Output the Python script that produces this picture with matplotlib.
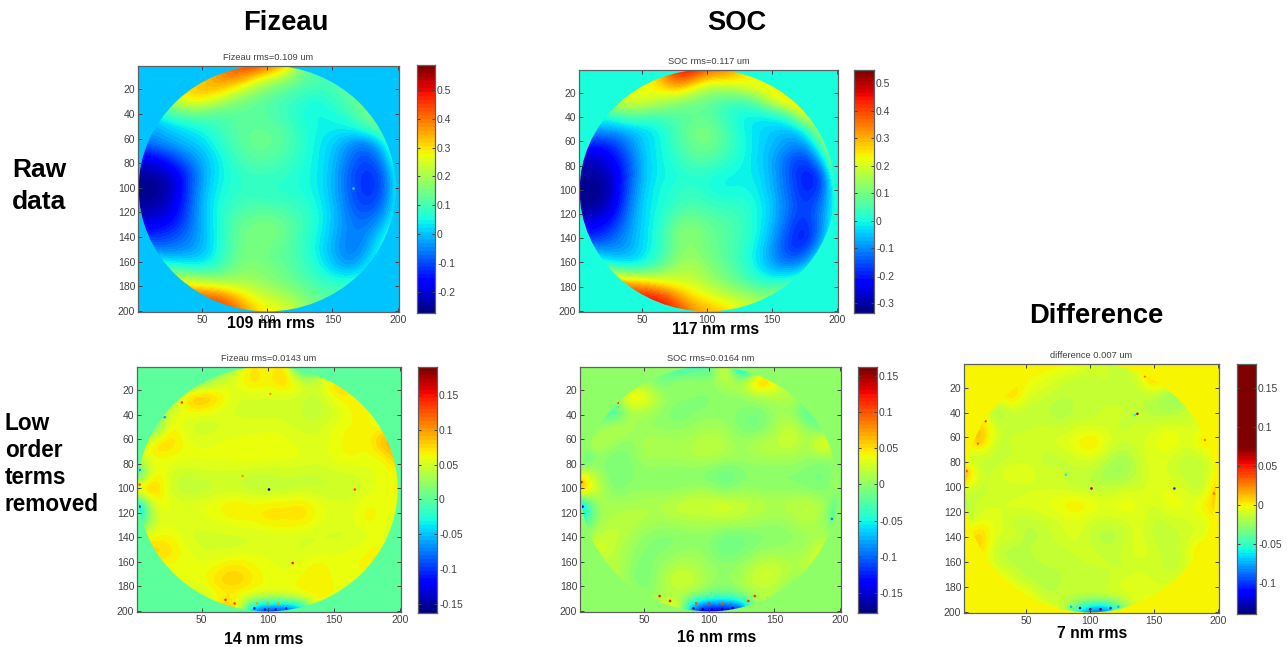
import numpy as np
import matplotlib
matplotlib.use("Agg")
import matplotlib.pyplot as plt
from matplotlib.colors import Normalize
from matplotlib.patches import Ellipse

plt.rcParams['font.family'] = ['Liberation Sans', 'DejaVu Sans']

# surface maps, in nm, rows and columns at 1, 13.5, 26 ... 201
fizeau_raw = [
    [300,300,300,300,300,380,450,470,420,340,150,100,100,100,100,100,100],
    [300,300,300,300,330,380,360,270,200,160,130,110,110,110,100,100,100],
    [200,200,250,320,330,270,190,150,120,100,80,60,90,130,170,170,170],
    [50,50,110,150,140,110,120,120,110,90,60,40,60,90,150,170,170],
    [-20,-20,10,30,60,90,120,130,130,110,70,50,40,50,100,160,180],
    [-60,-50,-20,0,20,70,110,140,140,120,80,40,10,-40,-70,20,170],
    [-200,-170,-120,-60,-10,40,90,120,120,100,70,40,0,-70,-110,-50,130],
    [-250,-240,-210,-130,-20,40,70,90,90,80,60,40,-10,-90,-130,-100,80],
    [-260,-265,-230,-120,-10,50,70,80,70,70,60,40,-10,-90,-130,-110,80],
    [-250,-240,-210,-110,0,60,90,100,100,90,80,50,0,-80,-115,-80,70],
    [-210,-200,-170,-100,0,60,120,140,150,130,100,60,0,-60,-80,-30,90],
    [-130,-130,-110,-70,-10,60,130,160,160,140,90,50,-10,-60,-50,30,120],
    [0,-50,-50,-40,-10,60,130,150,140,120,90,40,-20,-70,-30,70,130],
    [150,100,60,50,40,80,150,170,150,130,100,60,0,-40,20,100,130],
    [300,300,280,240,220,190,190,190,170,150,120,90,70,70,90,120,130],
    [450,450,450,450,430,420,340,270,230,200,170,130,120,120,130,130,130],
    [450,450,450,450,450,470,430,330,290,280,200,150,150,150,150,150,150],
]
soc_raw = [
    [200,200,200,200,200,300,450,470,380,370,280,200,150,100,100,100,100],
    [200,200,200,200,230,260,350,260,180,190,220,260,260,200,200,200,200],
    [170,170,200,220,220,180,130,100,80,50,40,90,220,300,300,300,300],
    [0,0,30,80,60,50,60,70,70,30,-10,-20,-10,40,230,260,260],
    [-80,-80,-90,-70,-40,-10,50,100,110,60,0,-30,-50,-70,-20,180,250],
    [-220,-220,-190,-120,-40,-10,40,90,100,60,10,-30,-60,-100,-110,60,230],
    [-290,-280,-240,-160,-50,-10,20,60,60,30,0,-30,-80,-150,-190,-70,210],
    [-310,-310,-280,-170,-50,-10,0,20,10,-10,-10,-20,-70,-150,-210,-190,130],
    [-320,-330,-290,-150,-40,0,20,30,10,-10,0,-10,-70,-140,-200,-170,80],
    [-320,-310,-270,-130,-30,0,30,60,40,30,30,0,-50,-130,-180,-120,40],
    [-260,-250,-210,-110,-30,10,90,100,80,60,40,0,-60,-150,-190,-110,60],
    [-200,-190,-150,-90,-30,20,110,130,90,70,40,0,-80,-170,-220,-100,70],
    [-50,-70,-90,-80,-30,20,100,130,90,70,30,-20,-100,-180,-170,-20,130],
    [100,60,20,-10,0,70,140,160,120,80,40,-20,-80,-110,-60,90,150],
    [350,350,320,300,270,220,200,190,150,110,70,30,10,30,90,160,160],
    [450,450,450,460,460,440,340,260,230,190,160,130,130,150,170,170,170],
    [450,450,450,450,470,470,440,340,300,280,240,200,180,150,150,150,150],
]
fizeau_low = [
    [0,0,0,0,0,0,30,80,50,90,-80,0,0,0,0,0,0],
    [0,0,0,0,0,50,60,80,65,90,55,50,90,75,0,0,0],
    [0,0,0,90,100,75,50,50,50,50,50,40,65,70,70,0,0],
    [0,0,55,60,60,55,50,50,50,50,45,40,50,60,80,20,0],
    [0,-20,75,50,45,50,55,55,55,55,50,50,60,65,60,70,40],
    [20,85,80,60,55,60,60,60,65,60,55,55,60,70,60,100,100],
    [60,60,60,60,60,60,60,65,60,60,60,55,60,65,60,60,95],
    [-60,75,50,45,50,50,50,45,45,50,45,45,50,50,55,60,60],
    [105,95,45,40,40,45,45,40,40,40,45,45,45,45,55,60,70],
    [-80,65,60,55,60,65,75,65,70,70,75,60,55,55,65,60,60],
    [-60,50,55,55,55,60,65,65,75,70,75,60,55,55,70,60,50],
    [60,60,65,50,50,50,50,50,50,55,50,50,50,50,55,55,60],
    [85,85,75,60,50,50,50,55,55,55,50,55,55,60,60,75,0],
    [0,65,60,60,60,65,75,65,60,55,60,70,60,60,70,85,0],
    [0,0,65,60,60,80,85,70,60,60,65,70,60,60,60,0,0],
    [0,0,0,40,50,60,60,60,60,60,70,70,70,40,0,0,0],
    [0,0,0,0,0,100,100,-100,-130,-130,-100,80,0,0,0,0,0],
]
soc_low = [
    [0,0,0,0,0,0,-60,-30,-40,70,-150,0,0,0,0,0,0],
    [0,0,0,0,0,-20,10,10,0,20,20,90,50,0,0,0,0],
    [0,0,0,60,50,10,0,-5,-5,0,0,10,10,20,0,0,0],
    [0,0,-60,10,10,0,-10,-5,0,0,-5,-10,5,5,-40,0,0],
    [0,-10,30,15,0,0,0,5,10,5,-10,-15,10,30,0,-30,0],
    [0,30,5,-5,15,15,10,15,25,15,5,20,20,30,5,70,0],
    [-50,0,-10,-5,10,10,10,15,15,10,5,10,10,10,0,0,0],
    [40,10,-10,-5,0,-5,-5,-5,-10,-20,-5,-5,-5,-5,-5,-15,10],
    [100,30,-10,0,0,0,0,5,5,-10,5,0,0,0,-5,-10,20],
    [-100,10,10,10,15,15,25,30,30,35,25,20,15,20,25,15,-40],
    [-60,5,15,20,15,10,15,15,15,20,15,10,5,10,20,10,-50],
    [0,20,25,15,0,-5,-5,0,0,-15,-10,-5,-5,0,5,10,0],
    [0,40,20,5,-5,-5,0,5,-5,-15,-10,0,5,5,10,40,0],
    [0,0,20,5,-10,5,15,15,5,0,5,25,25,15,20,40,0],
    [0,0,30,-5,-10,10,35,25,5,0,15,30,25,5,0,0,0],
    [0,0,0,30,-5,5,10,5,-10,-15,0,10,10,-20,0,0,0],
    [0,0,0,0,0,60,60,-150,-170,-170,-150,60,0,0,0,0,0],
]
difference = [
    [0,0,0,0,0,0,0,0,-10,-10,-20,0,0,0,0,0,0],
    [0,0,0,0,0,-5,-10,-15,-15,-10,-15,-10,20,0,0,0,0],
    [0,0,0,15,-10,-10,-15,-15,-10,-15,-15,-15,-15,-30,-25,0,0],
    [0,0,-30,-10,-15,-15,-20,-15,-15,-10,-10,-15,-20,-20,-15,0,0],
    [0,15,-10,-15,-15,-10,-15,-10,-10,-10,-15,-10,-10,-5,-10,-10,0],
    [0,20,-15,-10,-5,-10,-5,0,8,-5,-10,-10,-5,3,-10,10,0],
    [-20,-15,-15,-15,-10,-15,-15,-10,-5,-15,-25,-10,-5,-10,-15,-15,0],
    [30,-15,-10,0,-5,-10,-10,-15,-15,-25,-25,-15,-5,-10,-15,-15,0],
    [-10,-15,-10,-15,-10,-10,-10,-15,-15,-15,-10,-10,-5,-5,-10,-20,20],
    [-20,-10,-10,-5,-5,-5,0,6,0,-5,0,-5,-10,0,-5,0,15],
    [-20,-5,-5,-15,-15,-10,-10,-5,-10,-10,-10,-5,-15,-10,-10,-5,0],
    [0,15,-10,-5,-20,-15,-10,-5,-15,-20,-15,-5,-15,-15,-10,-10,0],
    [0,10,-15,-20,-15,-10,-15,-10,-10,-15,-10,-5,-10,-15,-10,15,0],
    [0,0,-10,-15,-20,-15,-15,-15,-10,-10,-15,-10,-10,-15,-10,0,0],
    [0,0,5,-5,-15,-20,-15,-15,-20,-15,-5,-5,-10,-10,-5,0,0],
    [0,0,0,0,5,-15,-15,-10,-5,-5,-10,-5,-5,0,0,0,0],
    [0,0,0,0,0,0,0,-60,-110,-110,-40,0,0,0,0,0,0],
]

# small features on the rim and single bad pixels: x, y, nm
fizeau_spots_x = [166]
fizeau_spots_y = [100]
fizeau_spots_v = [30]
soc_spots_x = []
soc_spots_y = []
soc_spots_v = []
flow_spots_x = [101, 119, 166, 81, 102, 180, 3, 3, 3, 22, 90, 98, 106, 114, 92, 100, 108, 68, 75, 35, 193]
flow_spots_y = [101, 161, 101, 90, 23, 38, 97, 115, 85, 42, 198, 199, 199, 198, 194, 194, 194, 191, 194, 30, 62]
flow_spots_v = [-150, 150, 130, 100, 100, 100, 120, -100, -70, -60, -120, -130, -130, -110, 100, 100, 100, 130, 130, 130, 100]
slow_spots_x = [88, 95, 102, 110, 118, 90, 100, 110, 2, 3, 194, 30, 62, 70, 130, 135, 25, 192]
slow_spots_y = [198, 199, 199, 199, 198, 194, 194, 194, 95, 115, 125, 30, 188, 192, 192, 188, 170, 60]
slow_spots_v = [-170, -178, -178, -178, -170, 100, 110, 100, 130, -150, -90, 120, 120, 120, 110, 110, 110, 90]
diff_spots_x = [85, 92, 100, 108, 116, 122, 137, 135, 101, 81, 166, 3, 197, 12, 22, 18, 143, 190]
diff_spots_y = [196, 197, 198, 198, 197, 196, 41, 42, 101, 90, 101, 87, 105, 65, 38, 47, 11, 62]
diff_spots_v = [-70, -120, -139, -139, -120, -70, 60, -60, 70, -60, -100, 35, 30, 30, -50, 35, 30, 25]

fizeau_ticks = [0.5, 0.4, 0.3, 0.2, 0.1, 0, -0.1, -0.2]
soc_ticks = [0.5, 0.4, 0.3, 0.2, 0.1, 0, -0.1, -0.2, -0.3]
low_ticks = [0.15, 0.1, 0.05, 0, -0.05, -0.1, -0.15]
diff_ticks = [0.15, 0.1, 0.05, 0, -0.05, -0.1]

W, H = 1287, 647
jet = plt.get_cmap('jet', 64)
tick_color = '#404040'
box_color = '#606060'

fig = plt.figure(figsize=(W / 100, H / 100), dpi=100)


def box(x0, y0, x1, y1):
    return fig.add_axes([x0 / W, 1 - y1 / H, (x1 - x0) / W, (y1 - y0) / H])


def style(ax):
    for s in ax.spines.values():
        s.set_color(box_color)
        s.set_linewidth(0.9)


def panel(rows, sx, sy, sv, title, vmin, vmax, top, ticks, ax_box, cb_box, rms, rms_x, rms_y):
    ax = box(*ax_box)
    norm = Normalize(vmin, vmax)
    ax.set_facecolor(jet(norm(0)))
    im = ax.imshow(np.array(rows) / 1000, cmap=jet, norm=norm, interpolation='bicubic',
                   interpolation_stage='data', extent=(-5.25, 207.25, 207.25, -5.25), aspect='auto')
    disc = Ellipse((100, 100.5), 197, 200, transform=ax.transData, fc='none', ec='none')
    ax.add_patch(disc)
    im.set_clip_path(disc)
    dots = ax.scatter(sx, sy, c=np.array(sv) / 1000, cmap=jet, norm=norm, s=3.5, linewidths=0)
    dots.set_clip_path(disc)
    ax.set_xlim(1, 201)
    ax.set_ylim(201, 1)
    ax.set_xticks([50, 100, 150, 200])
    ax.set_yticks(range(20, 201, 20))
    ax.tick_params(direction='in', length=3, width=0.7, labelsize=7.5, colors=tick_color,
                   top=True, right=True, pad=2)
    ax.set_title(title, fontsize=6.7, color=tick_color, pad=4)
    style(ax)

    # colour bar, the last panel runs past its colour limit
    cax = box(*cb_box)
    levels = np.linspace(top, vmin, 256).reshape(-1, 1)
    cax.imshow(levels, cmap=jet, norm=norm, extent=(0, 1, vmin, top), aspect='auto')
    cax.set_xticks([])
    cax.yaxis.tick_right()
    cax.set_yticks(ticks)
    cax.set_yticklabels([str(t) for t in ticks])
    cax.tick_params(direction='in', length=2.5, width=0.7, labelsize=7.5, colors=tick_color,
                    left=True, right=True, pad=1.5)
    style(cax)

    fig.text(rms_x / W, 1 - rms_y / H, rms, fontsize=11.3, fontweight='bold',
             ha='center', va='center')


panel(fizeau_raw, fizeau_spots_x, fizeau_spots_y, fizeau_spots_v, 'Fizeau rms=0.109 um',
      -0.273, 0.586, 0.586, fizeau_ticks, (138, 66, 399, 312), (417, 65, 435, 313), '109 nm rms', 271, 324)
panel(soc_raw, soc_spots_x, soc_spots_y, soc_spots_v, 'SOC rms=0.117 um',
      -0.336, 0.548, 0.548, soc_ticks, (579, 70, 838, 312), (854, 70, 874, 313), '117 nm rms', 716, 330)
panel(fizeau_low, flow_spots_x, flow_spots_y, flow_spots_v, 'Fizeau rms=0.0143 um',
      -0.163, 0.19, 0.19, low_ticks, (137, 367, 401, 612), (418, 367, 437, 613), '14 nm rms', 264, 639)
panel(soc_low, slow_spots_x, slow_spots_y, slow_spots_v, 'SOC rms=0.0164 nm',
      -0.178, 0.1625, 0.1625, low_ticks, (580, 367, 841, 612), (858, 367, 877, 613), '16 nm rms', 717, 638)
panel(difference, diff_spots_x, diff_spots_y, diff_spots_v, 'difference 0.007 um',
      -0.139, 0.075, 0.18, diff_ticks, (964, 364, 1219, 613), (1237, 364, 1256, 614), '7 nm rms', 1092, 634)

# headings
for label, x, y in [('Fizeau', 286, 23), ('SOC', 737, 23), ('Difference', 1096, 316)]:
    fig.text(x / W, 1 - y / H, label, fontsize=19.7, fontweight='bold', ha='center', va='center')
fig.text(39 / W, 1 - 186 / H, 'Raw\ndata', fontsize=19, fontweight='bold', ha='center', va='center',
         linespacing=1.4)
fig.text(5 / W, 1 - 464 / H, 'Low\norder\nterms\nremoved', fontsize=16.3, fontweight='bold',
         ha='left', va='center', linespacing=1.24)

fig.savefig('out.png', dpi=100)
